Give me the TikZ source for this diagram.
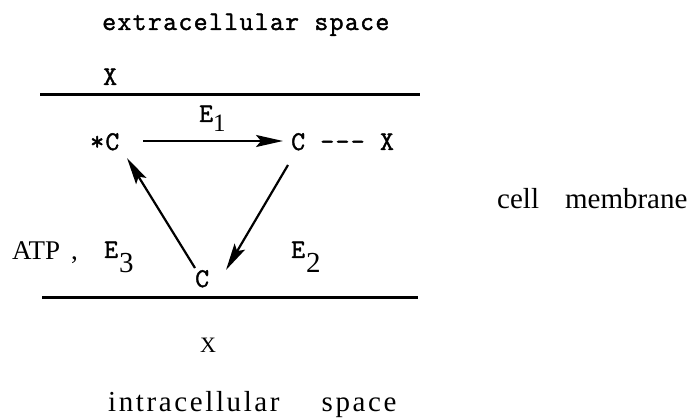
\documentclass[tikz,border=0pt]{standalone}
\usepackage{fontspec}
\setmainfont{Liberation Serif}
\newfontfamily\srfont{Liberation Serif}
\newfontfamily\srlsfont[LetterSpace=9]{Liberation Serif}
\newfontfamily\twfont{lmmono12-regular.otf}[LetterSpace=5,FakeBold=1.6]
\usetikzlibrary{arrows.meta}
\begin{document}
\begin{tikzpicture}[x=1pt,y=-1pt,
  tw/.style={font=\twfont\fontsize{27}{27}\selectfont, inner sep=0pt, anchor=base west},
  sr/.style={font=\srfont\fontsize{28}{28}\selectfont, inner sep=0pt, anchor=base west},
  arr/.style={line width=2.2pt, -{Stealth[length=27pt,width=12pt,inset=5pt]}},
  membrane/.style={line width=3pt}]
\useasboundingbox (0,0) rectangle (695,419);
% labels
\node[tw] (ext) at (102,30) {extracellular space};
\node[tw] (xtop) at (103,85) {X};
\node[tw] (e1) at (199,122) {E\kern0pt{\srfont\fontsize{25}{25}\selectfont\raisebox{-10pt}{1}}};
\node[tw] (sc) at (90,150) {*C};
\node[tw] (c1) at (291,150) {C ––– X};
\node[sr,font=\srfont\fontsize{27}{27}\selectfont] (atp) at (12,260) {ATP\hspace{11pt},};
\node[tw] (e3) at (104,258) {E\kern1pt{\srfont\fontsize{29}{29}\selectfont\raisebox{-15pt}{3}}};
\node[tw] (e2) at (291,258) {E\kern1pt{\srfont\fontsize{29}{29}\selectfont\raisebox{-15pt}{2}}};
\begin{scope}
  \clip (0,0) rectangle (695,287);
  \node[tw] (cb) at (195,287) {C};
\end{scope}
\node[sr,font=\srfont\fontsize{29}{29}\selectfont] (mem) at (497,209) {cell\hspace{26pt}membrane};
\node[sr,font=\srfont\fontsize{22}{22}\selectfont] (xbot) at (200,352) {X};
\node[sr,font=\srlsfont\fontsize{29}{29}\selectfont] (int) at (108,411) {intracellular\hspace{42pt}space};
% membranes
\draw[membrane] (40,95) -- (420,95);
\draw[membrane] (42,297) -- (418,297);
% arrows
\coordinate (a1s) at (143,141);
\coordinate (a1e) at (283,141);
\coordinate (a3s) at (195,268);
\coordinate (a3e) at (127,158);
\coordinate (a2s) at (288,165);
\coordinate (a2e) at (226,270);
\draw[arr] (a1s) -- (a1e);
\draw[arr] (a3s) -- (a3e);
\draw[arr] (a2s) -- (a2e);
\end{tikzpicture}
\end{document}
